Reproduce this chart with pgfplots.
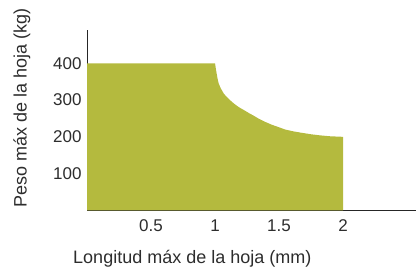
\documentclass[border=0pt]{standalone}
\usepackage{fontspec}
\setmainfont{Liberation Sans}
\usepackage{pgfplots}
\pgfplotsset{compat=1.18}
\definecolor{leaf}{RGB}{180,186,62}
\definecolor{txt}{RGB}{45,45,45}
\begin{document}
\begin{tikzpicture}
\begin{axis}[
  name=ax,
  scale only axis,
  width=329pt, height=180pt,
  xmin=0, xmax=2.57, ymin=0, ymax=490,
  axis x line=bottom, axis y line=left,
  axis line style={-, color=black!85, line width=0.7pt},
  xtick={0.5,1,1.5,2},
  xticklabels={0.5,1,1.5,2},
  ytick={100,200,300,400},
  major tick length=0pt,
  /pgf/number format/assume math mode=true,
  tick label style={font=\fontsize{17}{19}\selectfont, text=txt},
  xticklabel style={yshift=-6pt},
  yticklabel style={xshift=-2pt},
  xlabel={Longitud máx de la hoja (mm)},
  ylabel={Peso máx de la hoja (kg)},
  label style={font=\fontsize{18}{20}\selectfont, text=txt},
  xlabel style={at={(rel axis cs:0.32,-0.294)}, anchor=base},
  ylabel style={at={(rel axis cs:-0.1976,0.571)}, anchor=center},
]
\addplot[fill=leaf, draw=none] coordinates {
  (0,0) (0,400) (1,400) (1.002,396) (1.006,386) (1.013,372) (1.02,358)
  (1.029,345) (1.045,332) (1.068,318) (1.09,309) (1.12,299) (1.15,290)
  (1.185,281) (1.22,274) (1.263,265) (1.30,258) (1.338,250) (1.39,241)
  (1.443,233) (1.50,226) (1.547,220) (1.61,215) (1.677,211) (1.75,207)
  (1.82,204) (1.9,201.5) (2,200) (2,0)
} -- cycle;
\end{axis}
\pgfresetboundingbox
\path ([shift={(-87pt,-56.7pt)}]ax.south west) rectangle ([shift={(0pt,30.3pt)}]ax.north east);
\end{tikzpicture}
\end{document}
